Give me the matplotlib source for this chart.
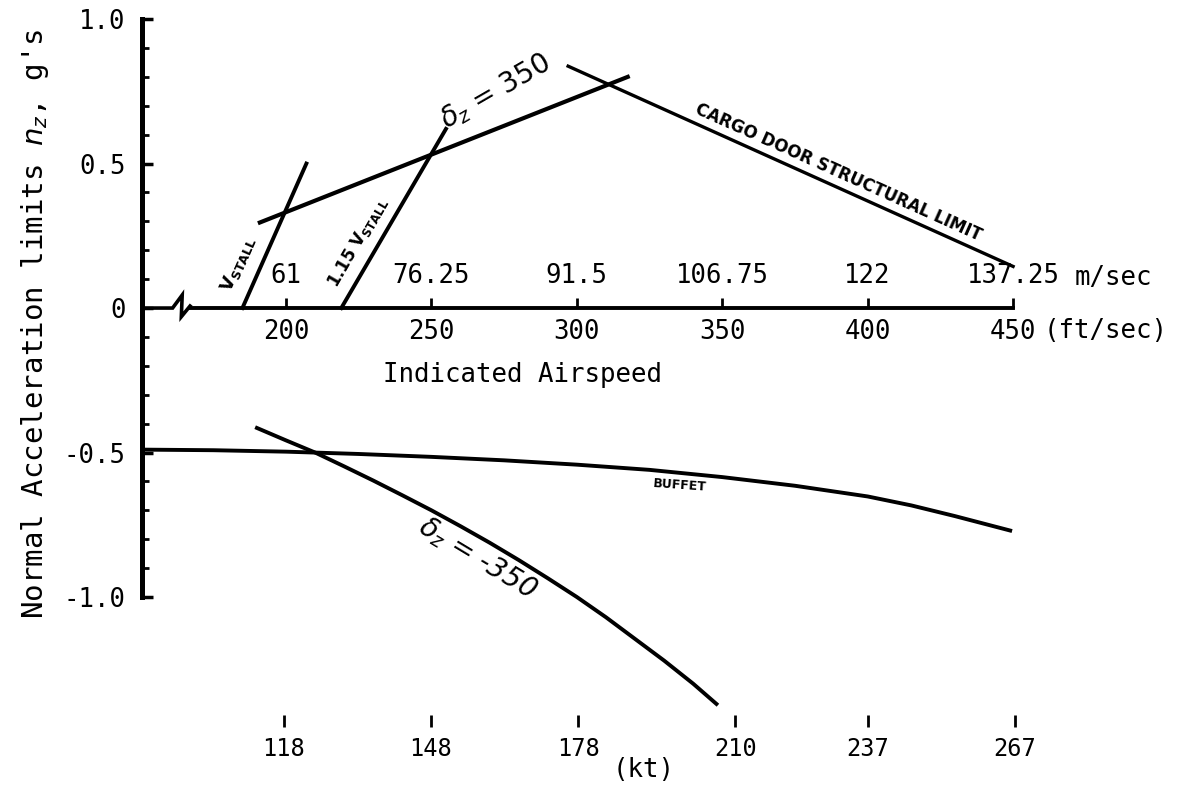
import matplotlib.pyplot as plt
import numpy as np
from matplotlib.ticker import FixedLocator

# airspeed in ft/sec, normal load factor in g
stall_v = [185, 207]
stall_n = [0.0, 0.50]
stall115_v = [219, 255]
stall115_n = [0.0, 0.62]
dz_pos_v = [191, 317.5]
dz_pos_n = [0.296, 0.80]
door_v = [297, 450]
door_n = [0.837, 0.144]
buffet_v = [151, 175, 200, 225, 250, 275, 300, 325, 350, 375, 400, 415, 430, 449]
buffet_n = [-0.49, -0.492, -0.497, -0.505, -0.515, -0.527, -0.542, -0.56, -0.585, -0.615,
            -0.652, -0.683, -0.72, -0.77]
dz_neg_v = [190, 200, 210, 220, 230, 240, 250, 260, 270, 280, 290, 300, 310, 320, 330, 340, 348]
dz_neg_n = [-0.415, -0.458, -0.50, -0.548, -0.597, -0.648, -0.70, -0.755, -0.812, -0.872,
            -0.935, -1.00, -1.07, -1.145, -1.22, -1.30, -1.37]

fts_ticks = [200, 250, 300, 350, 400, 450]
ms_ticks = [61, 76.25, 91.5, 106.75, 122, 137.25]
ms_labels = ['61', '76.25', '91.5', '106.75', '122', '137.25']
kt_ticks = [118, 148, 178, 210, 237, 267]
n_ticks = [-1.0, -0.5, 0, 0.5, 1.0]
n_labels = ['-1.0', '-0.5', '0', '0.5', '1.0']

FT_PER_KT = 1.68781
M_PER_FT = 0.305

plt.rcParams['font.family'] = 'DejaVu Sans Mono'

fig = plt.figure(figsize=(11.87, 7.86), dpi=100)
ax = fig.add_axes([0, 0, 1, 1])
xlim = (101.65, 509.8)
ylim = (-1.654, 1.066)
ax.set_xlim(*xlim)
ax.set_ylim(*ylim)

v_axis = 150.5   # where the n axis crosses
v_break = 161    # start of the axis break

ax.spines['top'].set_visible(False)
ax.spines['right'].set_visible(False)
ax.spines['left'].set_position(('data', v_axis))
ax.spines['left'].set_bounds(-1, 1)
ax.spines['left'].set_linewidth(3.6)
ax.spines['bottom'].set_position(('data', 0))
ax.spines['bottom'].set_bounds(v_break + 6, 450)
ax.spines['bottom'].set_linewidth(2.8)

ax.set_yticks(n_ticks, n_labels)
ax.yaxis.set_minor_locator(FixedLocator([t for t in np.round(np.arange(-0.9, 1.0, 0.1), 1) if t not in n_ticks]))
ax.tick_params(axis='y', which='major', direction='in', length=8, width=2.5, pad=12, labelsize=18.5)
ax.tick_params(axis='y', which='minor', direction='in', length=5, width=2)

ax.set_xticks(fts_ticks, [str(t) for t in fts_ticks])
ax.tick_params(axis='x', which='major', direction='in', length=7, width=2, pad=8, labelsize=18.5)

# axis break on the airspeed axis
ax.plot([v_axis, v_break, v_break + 3.3, v_break + 3.0, v_break + 6],
        [0, 0, 0.045, -0.03, 0.007], color='black', lw=2.6, solid_joinstyle='miter')

# m/sec scale above the axis line
frac0 = (0 - ylim[0]) / (ylim[1] - ylim[0])
ms = ax.secondary_xaxis(frac0, functions=(lambda v: v * M_PER_FT, lambda m: m / M_PER_FT))
ms.set_xticks(ms_ticks, ms_labels)
ms.tick_params(length=0, pad=14, labelsize=18.5)
for s in ms.spines.values():
    s.set_visible(False)

# knots scale at the bottom
n_kt = -1.45
frac_kt = (n_kt - ylim[0]) / (ylim[1] - ylim[0])
kt = ax.secondary_xaxis(frac_kt, functions=(lambda v: v / FT_PER_KT, lambda k: k * FT_PER_KT))
kt.set_xticks(kt_ticks, [str(k) for k in kt_ticks])
kt.tick_params(direction='in', length=9, width=2, pad=7, labelsize=17)
for s in kt.spines.values():
    s.set_visible(False)

# limit lines
ax.plot(stall_v, stall_n, color='black', lw=2.8)
ax.plot(stall115_v, stall115_n, color='black', lw=2.8)
ax.plot(dz_pos_v, dz_pos_n, color='black', lw=3.0)
ax.plot(door_v, door_n, color='black', lw=2.4)
ax.plot(buffet_v, buffet_n, color='black', lw=2.8)
ax.plot(dz_neg_v, dz_neg_n, color='black', lw=2.8)

# labels
ax.text(183.6, 0.152, r'$\mathbf{V_{STALL}}$', family='DejaVu Sans', fontsize=13,
        rotation=66, ha='center', va='center')
ax.text(224.8, 0.228, r'$\mathbf{1.15\ V_{STALL}}$', family='DejaVu Sans', fontsize=12,
        rotation=60, ha='center', va='center')
ax.text(272, 0.75, r'$\delta_{z}$ = 350', family='DejaVu Sans', fontsize=20,
        rotation=30, ha='center', va='center')
ax.text(390, 0.47, 'CARGO DOOR STRUCTURAL LIMIT', family='DejaVu Sans', fontsize=12,
        fontweight='bold', rotation=-24.2, ha='center', va='center')
ax.text(335.5, -0.615, 'BUFFET', family='DejaVu Sans', fontsize=9,
        fontweight='bold', rotation=-4, ha='center', va='center')
ax.text(265.7, -0.865, r'$\delta_{z}$ = -350', family='DejaVu Sans', fontsize=20,
        style='italic', rotation=-31, ha='center', va='center')

ax.text(471.3, 0.104, 'm/sec', fontsize=18.5, ha='left', va='center')
ax.text(460.5, -0.08, '(ft/sec)', fontsize=18.5, ha='left', va='center')
ax.text(233.4, -0.232, 'Indicated Airspeed', fontsize=18.5, ha='left', va='center')
ax.text(323.1, -1.599, '(kt)', fontsize=18.5, ha='center', va='center')
ax.text(113.7, -0.055, "Normal Acceleration limits $n_{z}$, g's", fontsize=21,
        rotation=90, ha='center', va='center')

fig.savefig('out.png', dpi=100, facecolor='white')
